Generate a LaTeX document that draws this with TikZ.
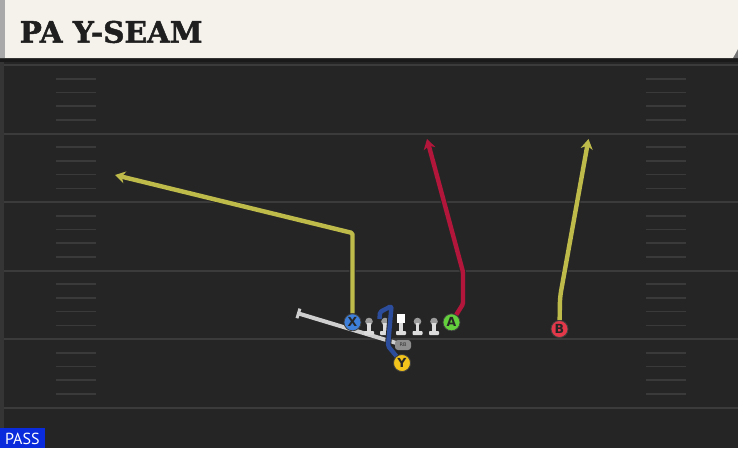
\documentclass[tikz,border=0pt]{standalone}
\usepackage{fontspec}
\setmainfont{DejaVu Serif}
\setsansfont{DejaVu Sans}
\newfontfamily\passfont{PT Sans}
\newfontfamily\titlefont[UprightFont={* Bold}, FakeBold=1.6]{DejaVu Serif}
\usetikzlibrary{arrows.meta}
\definecolor{fieldc}{HTML}{252525}
\definecolor{bandc}{HTML}{1A1A1A}
\definecolor{creamc}{HTML}{F5F2EC}
\definecolor{stripec}{HTML}{A9A9A9}
\definecolor{edgec}{HTML}{353535}
\definecolor{yardc}{HTML}{3B3B3B}
\definecolor{hashc}{HTML}{3A3A3A}
\definecolor{yrc}{HTML}{BEBB4A}
\definecolor{rrc}{HTML}{B3163B}
\definecolor{brc}{HTML}{2C4C9C}
\definecolor{xc}{HTML}{3D7FD9}
\definecolor{ac}{HTML}{63CF3C}
\definecolor{bc}{HTML}{E2384A}
\definecolor{yc}{HTML}{F3C41C}
\definecolor{rbc}{HTML}{8E8E8E}
\definecolor{fakec}{HTML}{CFCFCF}
\definecolor{passc}{HTML}{0A2BDC}
\definecolor{headc}{HTML}{9C9C9C}
\definecolor{blockc}{HTML}{DCDCDC}
\pgfdeclarelayer{back}
\pgfdeclarelayer{front}
\pgfsetlayers{back,main,front}
\tikzset{
  player/.style={circle, minimum size=17pt, inner sep=0pt, draw=black!75, line width=0.8pt,
    font=\sffamily\bfseries\fontsize{12.5}{12.5}\selectfont, text=black!85},
  route/.style={line width=4.4pt, line join=round, rounded corners=1.5pt},
  arrowroute/.style={route, draw=#1,
    -{Stealth[length=10pt,width=12pt,inset=3pt]},
    preaction={draw=black!85, line width=6.2pt, -{Stealth[length=12.5pt,width=14.5pt,inset=3.5pt]}}},
  plainroute/.style={route, draw=#1,
    preaction={draw=black!85, line width=6.2pt}},
  yardline/.style={draw=yardc, line width=2pt},
  hashline/.style={draw=hashc, line width=1.6pt},
  fakeline/.style={draw=fakec, line width=4pt, {Bar[width=10pt,line width=3pt]}-},
  rbbox/.style={fill=rbc, rounded corners=3pt, minimum width=16pt, minimum height=10pt, inner sep=0pt,
    font=\sffamily\fontsize{5}{5}\selectfont, text=black!80},
  headdot/.style={fill=headc},
  blockpart/.style={fill=blockc},
}
\begin{document}
\begin{tikzpicture}[x=1pt,y=-1pt]
\useasboundingbox (0,0) rectangle (738,448);
\begin{pgfonlayer}{back}
  \fill[fieldc] (0,0) rectangle (738,448);
  \fill[edgec] (0,60) rectangle (4,448);
  \fill[bandc] (0,56) rectangle (738,62);
  \fill[black!55] (733,58) -- (738,49) -- (738,58) -- cycle;
  \fill[creamc] (0,0) -- (738,0) -- (738,49) -- (733,58) -- (0,58) -- cycle;
  \fill[stripec] (0,0) rectangle (5,58);
  \foreach \y in {65,133.5,202,270.5,339,407.5} {
    \draw[yardline] (4,\y) -- (738,\y);
  }
  \foreach \y in {65,133.5,202,270.5,339} {
    \foreach \k in {1,2,3,4} {
      \draw[hashline] (56,\y+13.7*\k) -- (96,\y+13.7*\k);
      \draw[hashline] (646,\y+13.7*\k) -- (686,\y+13.7*\k);
    }
  }
  \coordinate (rbpos) at (403,345);
  \coordinate (fakeend) at (297,313);
  \draw[fakeline] (fakeend) -- (rbpos);
\end{pgfonlayer}

\node[anchor=base west, inner sep=0pt, font=\titlefont\fontsize{29.5}{29.5}\selectfont, text=black!88] (title) at (19.5,42.7) {PA Y-SEAM};
\fill[passc] (0,428) rectangle (45,448);
\node[anchor=base west, inner sep=0pt, font=\passfont\fontsize{16}{16}\selectfont, text=white] (pass) at (5,444) {PASS};

% linemen
\foreach \x in {369,385,417.5,434} {
  \fill[headdot] (\x,321.5) circle (3.8);
}
\fill[white] (397,314) rectangle (405,323);
\foreach \x in {369,385,401,417.5,434} {
  \fill[blockpart] (\x-1.6,323) rectangle (\x+1.6,332);
  \fill[blockpart, rounded corners=0.8pt] (\x-5,331) rectangle (\x+5,335);
}

\begin{pgfonlayer}{front}
  \node[player, fill=xc] (X) at (352.5,322.3) {X};
  \node[player, fill=ac] (A) at (451.5,322.3) {A};
  \node[player, fill=bc] (B) at (559.5,329) {B};
  \node[player, fill=yc] (Y) at (402,363) {Y};
\end{pgfonlayer}

\node[rbbox] (RB) at (rbpos) {RB};

% routes
\coordinate (xturn) at (352.5,233);
\coordinate (xend) at (115,175);
\draw[arrowroute=yrc] (X) -- (xturn) -- (xend);

\coordinate (aturn1) at (463,304);
\coordinate (aturn2) at (463,272);
\coordinate (aend) at (427,139);
\draw[arrowroute=rrc] (A) -- (aturn1) -- (aturn2) -- (aend);

\coordinate (bturn) at (560,297);
\coordinate (bend) at (588.5,139);
\draw[arrowroute=yrc, rounded corners=6pt] (B) -- (bturn) -- (bend);

\coordinate (yturn1) at (388,346);
\coordinate (yturn2) at (391.5,306);
\coordinate (yturn3) at (380,312);
\coordinate (yend) at (379.5,319);
\draw[plainroute=brc] (Y) -- (yturn1) -- (yturn2) -- (yturn3) -- (yend);
\end{tikzpicture}
\end{document}
